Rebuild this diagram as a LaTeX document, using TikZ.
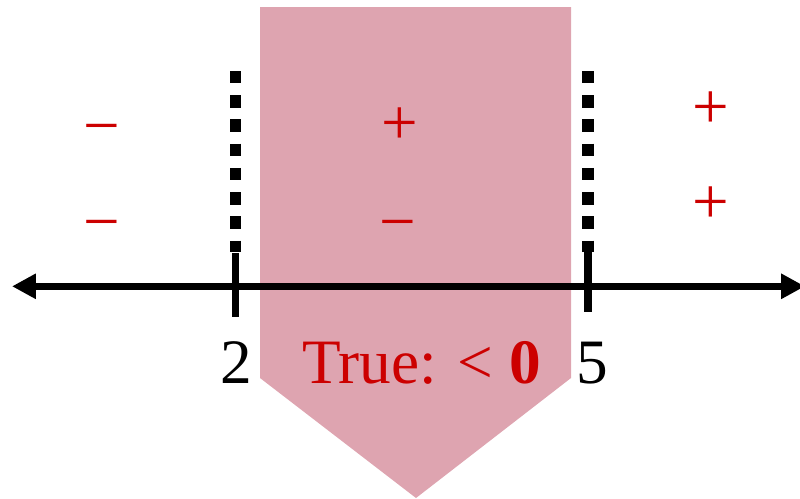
\documentclass[tikz,border=0pt]{standalone}
\usepackage{fontspec}
\setmainfont{Liberation Serif}
\usepackage{xcolor}
\usepackage{tikz}
\usetikzlibrary{arrows.meta}
\definecolor{truepink}{RGB}{222,164,176}
\definecolor{signred}{RGB}{204,0,0}

\begin{document}
\begin{tikzpicture}[x=0.02cm,y=-0.02cm,
    sign/.style={text=signred,font=\fontsize{37}{44}\selectfont,inner sep=0pt},
    numlabel/.style={font=\fontsize{36}{43}\selectfont,inner sep=0pt,anchor=base}]
        \useasboundingbox (0,0) rectangle (800,498);
        \fill[truepink] (260,7) -- (571,7) -- (571,378) -- (416,498) -- (260,378) -- cycle;
	  \foreach \x in {235.5,587.7}
	  {
	  \draw[line width=6.8pt,dash pattern=on 7pt off 6.8pt] (\x,71) -- (\x,252);
	  }
        \coordinate (west) at (12,286.3);
        \coordinate (east) at (805,286.3);
        \draw[line width=4.2pt,{Triangle[length=13.6pt,width=13.6pt]}-{Triangle[length=13.6pt,width=13.6pt]}] (west) -- (east);
        \draw[line width=4.5pt] (235.5,253) -- (235.5,317);
        \draw[line width=4.5pt] (587.6,249) -- (587.6,312);
        \node[numlabel] (two) at (236.7,383.5) {2};
        \node[numlabel] (five) at (592.5,383.5) {5};
        \node[numlabel,text=signred] (truelabel) at (421.5,383.5) {True: < \textbf{0}};
        % minus and plus signs, shifted down to sit on their rows
        \node[sign] (leftup) at (102,135.5) {−};
        \node[sign] (leftdown) at (102,231.5) {−};
        \node[sign] (midup) at (400,126) {+};
        \node[sign] (middown) at (398,231.5) {−};
        \node[sign] (rightup) at (711,110) {+};
        \node[sign] (rightdown) at (711,205.6) {+};
    \end{tikzpicture}
\end{document}
